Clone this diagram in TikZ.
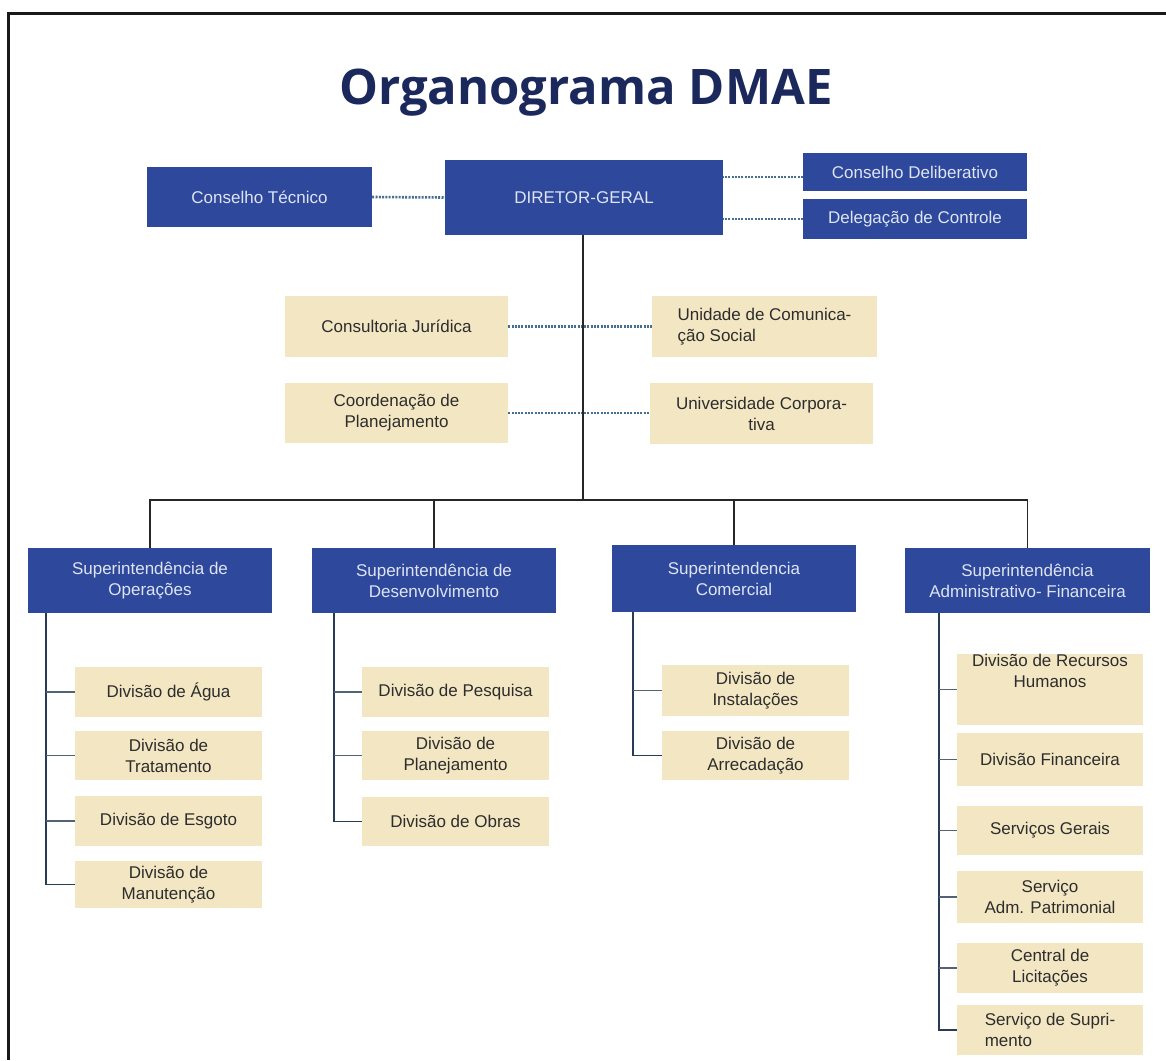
\documentclass[tikz,border=0pt]{standalone}
\usepackage{fontspec}
\setmainfont{Liberation Sans}
\newfontfamily\titlefont{Open Sans}
\definecolor{dmblue}{RGB}{46,72,155}
\definecolor{dmbeige}{RGB}{243,230,195}
\definecolor{dmtitle}{RGB}{27,40,92}
\definecolor{dmbluetext}{RGB}{222,228,242}
\definecolor{dmtext}{RGB}{45,45,45}
\definecolor{dmdot}{RGB}{70,110,145}
\definecolor{dmline}{RGB}{40,60,85}
\begin{document}
\begin{tikzpicture}[x=1pt,y=-1pt,
  bluebox/.style={fill=dmblue, text=dmbluetext, inner sep=0pt, align=center,
    font=\fontsize{17}{21}\selectfont},
  beigebox/.style={fill=dmbeige, text=dmtext, inner sep=0pt, align=center,
    font=\fontsize{17}{21}\selectfont},
  dotline/.style={draw=dmdot, line width=2.6pt, dash pattern=on 2pt off 1.3pt},
  trunk/.style={draw=black!85, line width=1.6pt},
  spine/.style={draw=dmline, line width=1.6pt},
  tick/.style={draw=dmline!80, line width=1.4pt},
]
\useasboundingbox (0,0) rectangle (1166,1060);
\fill[white] (0,0) rectangle (1166,1060);
\draw[line width=3pt, black!90] (8,1060) -- (8,13) -- (1166,13);

% title
\node[anchor=base, text=dmtitle, inner sep=0pt, font=\titlefont\bfseries\fontsize{49}{56}\selectfont] (title) at (586,104) {Organograma DMAE};

% top row
\node[bluebox, minimum width=225, minimum height=60] (ct) at (259.5,197) {Conselho Técnico};
\node[bluebox, minimum width=278, minimum height=75] (dg) at (584,197.5) {DIRETOR-GERAL};
\node[bluebox, minimum width=224, minimum height=38] (cd) at (915,172) {Conselho Deliberativo};
\node[bluebox, minimum width=224, minimum height=40] (dc) at (915,219) {Delegação de Controle};

% staff
\node[beigebox, minimum width=223, minimum height=61] (cj) at (396.5,326.5) {Consultoria Jurídica};
\node[beigebox, minimum width=225, minimum height=61, align=left] (uc) at (764.5,326.5) {Unidade de Comunica-\\ção Social};
\node[beigebox, minimum width=223, minimum height=60] (cp) at (396.5,413) {Coordenação de\\Planejamento};
\node[beigebox, minimum width=223, minimum height=61] (ucorp) at (761.5,413.5) {Universidade Corpora-\\tiva};

% superintendencias
\node[bluebox, minimum width=244, minimum height=65] (so) at (150,580.5) {Superintendência de\\Operações};
\node[bluebox, minimum width=244, minimum height=65] (sd) at (434,580.5) {Superintendência de\\Desenvolvimento};
\node[bluebox, minimum width=244, minimum height=67] (sc) at (734,578.5) {Superintendencia\\Comercial};
\node[bluebox, minimum width=245, minimum height=65] (sa) at (1027.5,580.5) {Superintendência\\Administrativo- Financeira};

% divisions column 1
\node[beigebox, minimum width=187, minimum height=50] (d11) at (168.5,692) {Divisão de Água};
\node[beigebox, minimum width=187, minimum height=49] (d12) at (168.5,755.5) {Divisão de\\Tratamento};
\node[beigebox, minimum width=187, minimum height=50] (d13) at (168.5,821) {Divisão de Esgoto};
\node[beigebox, minimum width=187, minimum height=47] (d14) at (168.5,884.5) {Divisão de\\Manutenção};
% column 2
\node[beigebox, minimum width=187, minimum height=50] (d21) at (455.5,692) {Divisão de Pesquisa};
\node[beigebox, minimum width=187, minimum height=49] (d22) at (455.5,755.5) {Divisão de\\Planejamento};
\node[beigebox, minimum width=187, minimum height=49] (d23) at (455.5,821.5) {Divisão de Obras};
% column 3
\node[beigebox, minimum width=187, minimum height=51] (d31) at (755.5,690.5) {Divisão de\\Instalações};
\node[beigebox, minimum width=187, minimum height=49] (d32) at (755.5,755.5) {Divisão de\\Arrecadação};
% column 4
\node[beigebox, minimum width=186, minimum height=63] (d41) at (1050,689.5) {Divisão de Recursos\\Humanos\\[17pt]};
\node[beigebox, minimum width=186, minimum height=53] (d42) at (1050,759.5) {Divisão Financeira};
\node[beigebox, minimum width=186, minimum height=49] (d43) at (1050,830.5) {Serviços Gerais};
\node[beigebox, minimum width=186, minimum height=52] (d44) at (1050,897) {Serviço\\Adm. Patrimonial};
\node[beigebox, minimum width=186, minimum height=50] (d45) at (1050,968) {Central de\\Licitações};
\node[beigebox, minimum width=186, minimum height=50, align=left] (d46) at (1050,1030) {Serviço de Supri-\\mento};

% dotted connectors
\draw[dotline] (ct.east) -- (dg.west);
\draw[dotline] (cd.west |- 0,177) -- (dg.east |- 0,177);
\draw[dotline] (dc.west) -- (dc.west -| dg.east);
\draw[dotline] (cj.east) -- (uc.west);
\draw[dotline] (cp.east) -- (cp.east -| ucorp.west);

% trunk and bus
\coordinate (bus) at (583,500);
\draw[trunk] (dg.south -| bus) -- (bus);
\draw[trunk] (so.north) -- (so.north |- bus) -- (sa.north |- bus) -- (sa.north);
\draw[trunk] (sd.north) -- (sd.north |- bus);
\draw[trunk] (sc.north) -- (sc.north |- bus);

% spines and ticks
\draw[spine] ([xshift=18pt]so.south west) |- (d14.west);
\draw[tick] ([xshift=18pt]so.south west |- d11.west) -- (d11.west);
\draw[tick] ([xshift=18pt]so.south west |- d12.west) -- (d12.west);
\draw[tick] ([xshift=18pt]so.south west |- d13.west) -- (d13.west);

\draw[spine] ([xshift=22pt]sd.south west) |- (d23.west);
\draw[tick] ([xshift=22pt]sd.south west |- d21.west) -- (d21.west);
\draw[tick] ([xshift=22pt]sd.south west |- d22.west) -- (d22.west);

\draw[spine] ([xshift=21pt]sc.south west) |- (d32.west);
\draw[tick] ([xshift=21pt]sc.south west |- d31.west) -- (d31.west);

\draw[spine] ([xshift=34pt]sa.south west) |- (d46.west);
\draw[tick] ([xshift=34pt]sa.south west |- d41.west) -- (d41.west);
\draw[tick] ([xshift=34pt]sa.south west |- d42.west) -- (d42.west);
\draw[tick] ([xshift=34pt]sa.south west |- d43.west) -- (d43.west);
\draw[tick] ([xshift=34pt]sa.south west |- d44.west) -- (d44.west);
\draw[tick] ([xshift=34pt]sa.south west |- d45.west) -- (d45.west);
\end{tikzpicture}
\end{document}
